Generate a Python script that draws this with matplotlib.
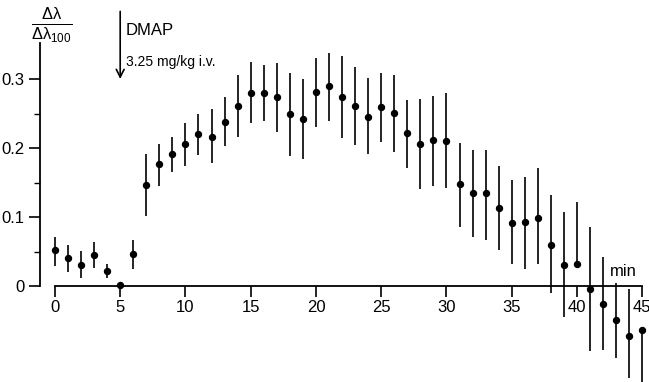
import matplotlib
matplotlib.use("Agg")
import matplotlib.pyplot as plt
import numpy as np

# === DATA ===
minutes = np.arange(0, 46)
ratio = [0.052, 0.040, 0.031, 0.045, 0.022, 0.001, 0.046, 0.146, 0.177, 0.191,
         0.206, 0.220, 0.216, 0.238, 0.261, 0.280, 0.280, 0.274, 0.249, 0.242,
         0.281, 0.290, 0.274, 0.261, 0.245, 0.260, 0.251, 0.222, 0.206, 0.211,
         0.210, 0.148, 0.135, 0.135, 0.113, 0.091, 0.093, 0.099, 0.059, 0.030,
         0.032, -0.004, -0.026, -0.049, -0.072, -0.063]
err_low = [0.023, 0.020, 0.020, 0.019, 0.010, 0.002, 0.021, 0.045, 0.032, 0.025,
           0.032, 0.030, 0.038, 0.035, 0.045, 0.044, 0.041, 0.051, 0.061, 0.058,
           0.051, 0.051, 0.060, 0.057, 0.054, 0.051, 0.057, 0.051, 0.065, 0.066,
           0.068, 0.062, 0.064, 0.068, 0.061, 0.059, 0.068, 0.067, 0.069, 0.075,
           0.000, 0.090, 0.067, 0.055, 0.061, 0.085]
err_high = [0.019, 0.020, 0.020, 0.019, 0.010, 0.002, 0.021, 0.046, 0.029, 0.025,
            0.030, 0.030, 0.040, 0.036, 0.045, 0.045, 0.040, 0.049, 0.060, 0.058,
            0.049, 0.048, 0.059, 0.056, 0.056, 0.049, 0.055, 0.048, 0.065, 0.064,
            0.070, 0.059, 0.062, 0.062, 0.061, 0.063, 0.065, 0.072, 0.073, 0.077,
            0.090, 0.090, 0.068, 0.053, 0.068, 0.000]
x_ticks = [0, 5, 10, 15, 20, 25, 30, 35, 40, 45]
y_ticks = [0, 0.1, 0.2, 0.3]
y_labels = ["0", "0.1", "0.2", "0.3"]

plt.rcParams['font.family'] = ['Liberation Sans', 'DejaVu Sans']
plt.rcParams['mathtext.fontset'] = 'custom'
plt.rcParams['mathtext.rm'] = 'Liberation Sans'
plt.rcParams['mathtext.it'] = 'Liberation Sans'

# === PLOT ===
fig = plt.figure(figsize=(6.49, 3.82), dpi=100)
ax = fig.add_axes([0, 0, 1, 1])
ax.set_xlim(-4.21, 45.52)
ax.set_ylim(-0.139, 0.4145)

ax.errorbar(minutes, ratio, yerr=[err_low, err_high], fmt="o", color="black",
            markersize=4.3, elinewidth=1.2, capsize=0, clip_on=False)

# axes drawn like the paper figure
for s in ["top", "right"]:
    ax.spines[s].set_visible(False)
ax.spines["bottom"].set_position(("data", 0))
ax.spines["bottom"].set_bounds(0, 45)
ax.spines["left"].set_position(("data", -1.15))
ax.spines["left"].set_bounds(0, 0.352)
ax.spines["bottom"].set_linewidth(1.3)
ax.spines["left"].set_linewidth(1.3)

ax.set_xticks(x_ticks)
ax.tick_params(axis="x", direction="out", length=8, width=1.2, labelsize=12, pad=2)
ax.set_yticks(y_ticks)
ax.set_yticklabels(y_labels)
ax.set_yticks([0.05, 0.15, 0.25], minor=True)
ax.tick_params(axis="y", which="major", direction="out", length=8, width=1.2, labelsize=12, pad=3)
ax.tick_params(axis="y", which="minor", direction="out", length=4, width=1.0)

# y label as a fraction
ax.text(-0.25, 0.378, r"$\frac{\Delta\lambda}{\Delta\lambda_{100}}$", fontsize=17,
        ha="center", va="center")

# injection marker
ax.annotate("", xy=(5.0, 0.296), xytext=(5.0, 0.402),
            arrowprops=dict(arrowstyle="->", color="black", lw=1.2,
                            mutation_scale=14))
ax.text(5.45, 0.371, "DMAP", fontsize=12, ha="left", va="center")
ax.text(5.45, 0.325, "3.25 mg/kg i.v.", fontsize=10, ha="left", va="center")

ax.text(42.5, 0.021, "min", fontsize=12, ha="left", va="center")

fig.savefig("out.png", dpi=100)
